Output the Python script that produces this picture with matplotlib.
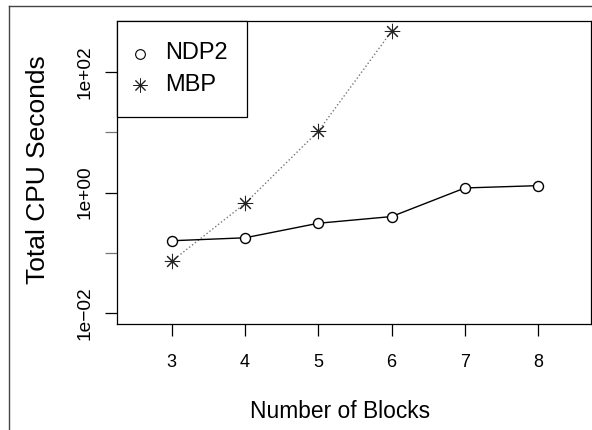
import matplotlib
matplotlib.use("Agg")
import matplotlib.pyplot as plt
from matplotlib.lines import Line2D
from matplotlib.patches import Rectangle

plt.rcParams['font.family'] = ['Liberation Sans', 'DejaVu Sans']

blocks_ndp2 = [3, 4, 5, 6, 7, 8]
cpu_ndp2 = [0.159, 0.178, 0.31, 0.40, 1.19, 1.30]
blocks_mbp = [3, 4, 5, 6]
cpu_mbp = [0.073, 0.66, 10.4, 470]
x_ticks = [3, 4, 5, 6, 7, 8]
y_major = [1e-2, 1e0, 1e2]
y_major_labels = ["1e\u221202", "1e+00", "1e+02"]
y_minor = [1e-1, 1e1]
series_names = ["NDP2", "MBP"]

W, H = 592, 430
fig = plt.figure(figsize=(W / 100, H / 100), dpi=100)
L, R, T, B = 116.7, 591.0, 20.7, 324.0
ax = fig.add_axes([L / W, 1 - B / H, (R - L) / W, (B - T) / H])

ax.set_yscale('log')
ax.plot(blocks_mbp, cpu_mbp, linestyle=':', color='#777777', linewidth=1.0, zorder=2)
ax.plot(blocks_mbp, cpu_mbp, linestyle='none', marker=(8, 2, 0), markersize=11,
        markeredgecolor='#222222', markeredgewidth=0.75, zorder=3)
ax.plot(blocks_ndp2, cpu_ndp2, linestyle='-', color='black', linewidth=1.0,
        marker='o', markersize=7.2, markerfacecolor='white', markeredgecolor='black',
        markeredgewidth=1.0, zorder=3)

ax.set_xlim(2.248, 8.72)
ax.set_ylim(10 ** -2.177, 10 ** 2.845)

ax.set_xticks(x_ticks)
ax.set_xticklabels([str(v) for v in x_ticks], fontsize=13)
ax.set_yticks(y_major)
ax.set_yticklabels(y_major_labels, fontsize=13.8, rotation=90, va='center')
ax.set_yticks(y_minor, minor=True)
ax.yaxis.set_minor_formatter(matplotlib.ticker.NullFormatter())
ax.tick_params(axis='both', which='both', direction='out', length=8.5, width=0.9,
               color='black')
ax.tick_params(axis='x', which='major', pad=13)
ax.tick_params(axis='y', which='major', pad=8)
ax.tick_params(axis='y', which='minor', color='#777777')

for s in ax.spines.values():
    s.set_linewidth(0.9)
    s.set_color('black')

ax.set_xlabel("Number of Blocks", fontsize=16.4, va='center')
ax.xaxis.set_label_coords((340 - L) / (R - L), (B - 411) / (B - T))
ax.set_ylabel("Total CPU Seconds", fontsize=19, va='center')
ax.yaxis.set_label_coords((38 - L) / (R - L), (B - 170) / (B - T))

# legend box drawn in figure pixel coordinates
def fx(px):
    return px / W

def fy(py):
    return 1 - py / H

fig.add_artist(Rectangle((fx(L), fy(117)), fx(247) - fx(L), fy(T) - fy(117),
                         transform=fig.transFigure, facecolor='white',
                         edgecolor='black', linewidth=0.9, zorder=5))
fig.add_artist(Line2D([fx(140)], [fy(54)], transform=fig.transFigure, linestyle='none',
                      marker='o', markersize=7, markerfacecolor='white',
                      markeredgecolor='black', markeredgewidth=0.8, zorder=6))
fig.add_artist(Line2D([fx(140)], [fy(85)], transform=fig.transFigure, linestyle='none',
                      marker=(8, 2, 0), markersize=10, markeredgecolor='#222222',
                      markeredgewidth=0.7, zorder=6))
fig.text(fx(165), fy(53), series_names[0], fontsize=17, va='center', ha='left', zorder=6)
fig.text(fx(165), fy(85), series_names[1], fontsize=17, va='center', ha='left', zorder=6)

# outer frame lines
fig.add_artist(Line2D([8.5 / W, 8.5 / W], [0, 1 - 5.7 / H], transform=fig.transFigure,
                      color='#444444', linewidth=1.0))
fig.add_artist(Line2D([8.5 / W, 1], [1 - 5.7 / H, 1 - 5.7 / H], transform=fig.transFigure,
                      color='#444444', linewidth=1.0))

fig.savefig("out.png", dpi=100)
